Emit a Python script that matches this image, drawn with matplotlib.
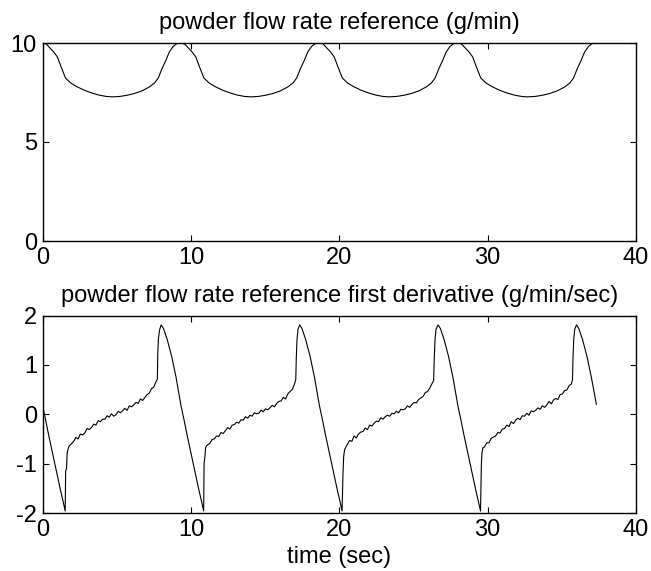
import matplotlib
matplotlib.use("Agg")
import matplotlib.pyplot as plt
import numpy as np

# ---------------- data ----------------
# top panel: powder flow rate reference (g/min)
flow_t_p0 = [0.0, 0.25, 0.5, 0.75, 1.0, 1.25, 1.55, 1.9, 2.3, 2.8, 3.3, 3.8, 4.3, 4.7,
             5.2, 5.7, 6.2, 6.7, 7.2, 7.55, 7.8, 8.05, 8.3, 8.55, 8.8, 9.05]
flow_t_p1 = [9.33, 9.58, 9.83, 10.08, 10.33, 10.58, 10.88, 11.23, 11.63, 12.13, 12.63, 13.13,
             13.63, 14.03, 14.53, 15.03, 15.53, 16.03, 16.53, 16.88, 17.13, 17.38, 17.63,
             17.88, 18.13, 18.38]
flow_t_p2 = [18.66, 18.91, 19.16, 19.41, 19.66, 19.91, 20.21, 20.56, 20.96, 21.46, 21.96,
             22.46, 22.96, 23.36, 23.86, 24.36, 24.86, 25.36, 25.86, 26.21, 26.46, 26.71,
             26.96, 27.21, 27.46, 27.71]
flow_t_p3 = [27.99, 28.24, 28.49, 28.74, 28.99, 29.24, 29.54, 29.89, 30.29, 30.79, 31.29,
             31.79, 32.29, 32.69, 33.19, 33.69, 34.19, 34.69, 35.19, 35.54, 35.79, 36.04,
             36.29, 36.54, 36.79, 37.04, 37.32]
flow_v_p0 = [10.0, 9.95, 9.75, 9.55, 9.3, 8.8, 8.23, 7.98, 7.8, 7.62, 7.48, 7.37, 7.3, 7.28,
             7.3, 7.36, 7.45, 7.58, 7.78, 7.98, 8.23, 8.7, 9.1, 9.55, 9.82, 9.97]
flow_v_p1 = [10.0, 9.95, 9.75, 9.55, 9.3, 8.8, 8.23, 7.98, 7.8, 7.62, 7.48, 7.37, 7.3, 7.28,
             7.3, 7.36, 7.45, 7.58, 7.78, 7.98, 8.23, 8.7, 9.1, 9.55, 9.82, 9.97]
flow_v_p2 = [10.0, 9.95, 9.75, 9.55, 9.3, 8.8, 8.23, 7.98, 7.8, 7.62, 7.48, 7.37, 7.3, 7.28,
             7.3, 7.36, 7.45, 7.58, 7.78, 7.98, 8.23, 8.7, 9.1, 9.55, 9.82, 9.97]
flow_v_p3 = [10.0, 9.95, 9.75, 9.55, 9.3, 8.8, 8.23, 7.98, 7.8, 7.62, 7.48, 7.37, 7.3, 7.28,
             7.3, 7.36, 7.45, 7.58, 7.78, 7.98, 8.23, 8.7, 9.1, 9.55, 9.82, 9.97, 10.0]

# bottom panel: first derivative (g/min/sec)
der_t_p0 = [0.00, 0.20, 0.40, 0.60, 0.80, 1.00, 1.20, 1.40, 1.53, 1.56, 1.62, 1.66, 1.72,
            1.80, 1.95, 2.10, 2.25, 2.40, 2.55, 2.70, 2.85, 3.00, 3.15, 3.30, 3.45, 3.60,
            3.75, 3.90, 4.05, 4.20, 4.35, 4.50, 4.65, 4.80, 4.95, 5.10, 5.25, 5.40, 5.55,
            5.70, 5.85, 6.00, 6.15, 6.30, 6.45, 6.60, 6.75, 6.90, 7.05, 7.20, 7.35, 7.50,
            7.65, 7.74, 7.77, 7.82, 7.90, 8.00, 8.15, 8.40, 8.70, 9.00, 9.33]
der_v_p0 = [0.18, -0.10, -0.40, -0.68, -0.96, -1.24, -1.52, -1.78, -1.96, -1.15, -1.10,
            -0.80, -0.70,
            -0.64, -0.60, -0.55, -0.47, -0.50, -0.40, -0.42, -0.38, -0.29, -0.31, -0.27,
            -0.20, -0.22, -0.13, -0.15, -0.10, -0.10, -0.03, -0.06, 0.01, -0.04, -0.01,
            0.06, 0.03, 0.07, 0.12, 0.08, 0.17, 0.15, 0.19, 0.24, 0.22, 0.31, 0.28, 0.34,
            0.40, 0.43, 0.52, 0.55, 0.66, 0.71,
            1.25, 1.55, 1.72, 1.81, 1.74, 1.52, 1.18, 0.75, 0.18]

der_t_p1 = [9.53, 9.73, 9.93, 10.13, 10.33, 10.53, 10.73, 10.86, 10.89, 10.95, 10.99, 11.05,
            11.13, 11.28, 11.43, 11.58, 11.73, 11.88, 12.03, 12.18, 12.33, 12.48, 12.63,
            12.78, 12.93, 13.08, 13.23, 13.38, 13.53, 13.68, 13.83, 13.98, 14.13, 14.28,
            14.43, 14.58, 14.73, 14.88, 15.03, 15.18, 15.33, 15.48, 15.63, 15.78, 15.93,
            16.08, 16.23, 16.38, 16.53, 16.68, 16.83, 16.98, 17.07,
            17.10, 17.15, 17.22, 17.33, 17.48, 17.73, 18.03, 18.33, 18.66]
der_v_p1 = [-0.10, -0.40, -0.68, -0.96, -1.24, -1.52, -1.78, -1.96, -1.00, -0.85, -0.68,
            -0.64,
            -0.62, -0.59, -0.51, -0.50, -0.44, -0.45, -0.37, -0.39, -0.33, -0.27, -0.30,
            -0.22, -0.21, -0.16, -0.18, -0.11, -0.12, -0.05, -0.08, -0.02, -0.04, 0.03,
            0.01, 0.02, 0.08, 0.05, 0.11, 0.09, 0.13, 0.18, 0.15, 0.22, 0.26, 0.27, 0.34,
            0.31, 0.41, 0.46, 0.50, 0.61, 0.70,
            1.10, 1.50, 1.72, 1.81, 1.74, 1.52, 1.18, 0.75, 0.18]

der_t_p2 = [18.86, 19.06, 19.26, 19.46, 19.66, 19.86, 20.06, 20.19, 20.22, 20.25, 20.30,
            20.36, 20.45,
            20.55, 20.70, 20.85, 21.00, 21.15, 21.30, 21.45, 21.60, 21.75, 21.90, 22.05,
            22.20, 22.35, 22.50, 22.65, 22.80, 22.95, 23.10, 23.25, 23.40, 23.55, 23.70,
            23.85, 24.00, 24.15, 24.30, 24.45, 24.60, 24.75, 24.90, 25.05, 25.20, 25.35,
            25.50, 25.65, 25.80, 25.95, 26.10, 26.25, 26.36,
            26.40, 26.45, 26.52, 26.66, 26.81, 27.06, 27.36, 27.66, 27.99]
der_v_p2 = [-0.10, -0.40, -0.68, -0.96, -1.24, -1.52, -1.78, -1.96, -1.60, -1.20, -0.85,
            -0.72, -0.66,
            -0.61, -0.53, -0.55, -0.44, -0.48, -0.40, -0.36, -0.35, -0.28, -0.31, -0.22,
            -0.24, -0.18, -0.14, -0.15, -0.07, -0.10, -0.05, -0.02, -0.04, 0.02, 0.01, 0.06,
            0.03, 0.10, 0.09, 0.11, 0.17, 0.14, 0.20, 0.24, 0.23, 0.30, 0.33, 0.36, 0.44,
            0.46, 0.53, 0.62, 0.68,
            1.10, 1.50, 1.72, 1.81, 1.74, 1.52, 1.18, 0.75, 0.18]

der_t_p3 = [28.19, 28.39, 28.59, 28.79, 28.99, 29.19, 29.39, 29.52, 29.55, 29.58, 29.62,
            29.68,
            29.79, 29.94, 30.09, 30.24, 30.39, 30.54, 30.69, 30.84, 30.99, 31.14, 31.29,
            31.44, 31.59, 31.74, 31.89, 32.04, 32.19, 32.34, 32.49, 32.64, 32.79, 32.94,
            33.09, 33.24, 33.39, 33.54, 33.69, 33.84, 33.99, 34.14, 34.29, 34.44, 34.59,
            34.74, 34.89, 35.04, 35.19, 35.34, 35.49, 35.64, 35.72,
            35.75, 35.80, 35.87, 35.99, 36.14, 36.39, 36.69, 36.99, 37.33]
der_v_p3 = [-0.10, -0.40, -0.68, -0.96, -1.24, -1.52, -1.78, -1.96, -1.50, -1.00, -0.78,
            -0.68,
            -0.66, -0.58, -0.58, -0.49, -0.46, -0.44, -0.37, -0.38, -0.30, -0.29, -0.22,
            -0.25, -0.15, -0.19, -0.12, -0.08, -0.11, -0.03, -0.04, 0.02, -0.02, 0.07,
            0.05, 0.08, 0.13, 0.10, 0.17, 0.14, 0.19, 0.26, 0.21, 0.29, 0.32, 0.30, 0.40,
            0.41, 0.48, 0.49, 0.58, 0.61, 0.70,
            1.10, 1.50, 1.72, 1.81, 1.74, 1.52, 1.18, 0.75, 0.20]

x_ticks = [0, 10, 20, 30, 40]
top_yticks = [0, 5, 10]
bot_yticks = [-2, -1, 0, 1, 2]
top_title = "powder flow rate reference (g/min)"
bot_title = "powder flow rate reference first derivative (g/min/sec)"
x_label = "time (sec)"

# ---------------- plotting ----------------
plt.rcParams['font.family'] = ['Liberation Sans', 'DejaVu Sans']
plt.rcParams['font.size'] = 17
plt.rcParams['axes.unicode_minus'] = False

W, H = 651, 571
fig = plt.figure(figsize=(W / 100, H / 100), dpi=100)

def px_axes(left, top, right, bottom):
    return fig.add_axes([left / W, 1 - bottom / H, (right - left) / W, (bottom - top) / H])

ax1 = px_axes(42.5, 43, 636, 241)
ax2 = px_axes(42.5, 315.5, 636, 513)

flow_t = flow_t_p0 + flow_t_p1 + flow_t_p2 + flow_t_p3
flow_v = flow_v_p0 + flow_v_p1 + flow_v_p2 + flow_v_p3
der_t = der_t_p0 + der_t_p1 + der_t_p2 + der_t_p3
der_v = der_v_p0 + der_v_p1 + der_v_p2 + der_v_p3

ax1.plot(flow_t, flow_v, color='black', lw=0.8)
ax2.plot(der_t, der_v, color='black', lw=0.8)

for ax, yt in ((ax1, top_yticks), (ax2, bot_yticks)):
    ax.set_xlim(0, 40)
    ax.set_ylim(yt[0], yt[-1])
    ax.set_xticks(x_ticks)
    ax.set_yticks(yt)
    ax.tick_params(direction='in', length=4, width=0.8, top=True, right=True,
                   labelsize=17, pad=4, color='black')
    for s in ax.spines.values():
        s.set_linewidth(1.0)

ax1.set_title(top_title, fontsize=17, pad=10)
ax2.set_title(bot_title, fontsize=17, pad=10)
ax2.set_xlabel(x_label, fontsize=17, labelpad=4)

fig.savefig("out.png", dpi=100)
